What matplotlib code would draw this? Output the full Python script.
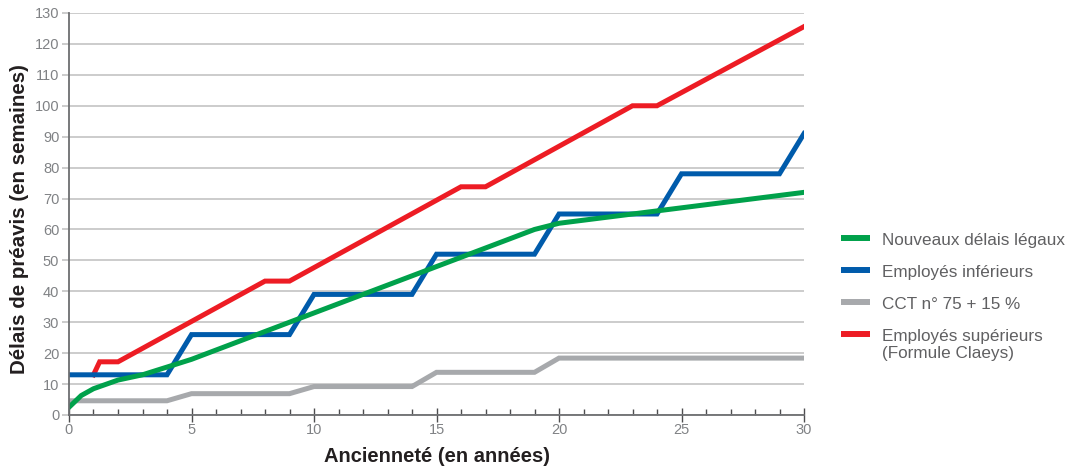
import matplotlib.pyplot as plt
from matplotlib.lines import Line2D
from matplotlib.ticker import MultipleLocator

# Nouveaux délais légaux (weeks)
green_x = [0, 0.5, 1, 2, 3, 4, 5, 6, 7, 8, 9, 10, 11, 12, 13, 14, 15, 16, 17, 18, 19,
           20, 21, 22, 23, 24, 25, 26, 27, 28, 29, 30]
green_y = [2.5, 6.3, 8.5, 11.3, 13, 15.5, 18, 21, 24, 27, 30, 33, 36, 39, 42, 45, 48, 51, 54, 57, 60,
           62, 63, 64, 65, 66, 67, 68, 69, 70, 71, 72]

# Employés inférieurs
blue_x = [0, 4, 5, 9, 10, 14, 15, 19, 20, 24, 25, 29, 30]
blue_y = [13, 13, 26, 26, 39, 39, 52, 52, 65, 65, 78, 78, 91]

# CCT n° 75 + 15 %
gray_x = [0, 4, 5, 9, 10, 14, 15, 19, 20, 30]
gray_y = [4.6, 4.6, 6.9, 6.9, 9.2, 9.2, 13.8, 13.8, 18.4, 18.4]

# Employés supérieurs (Formule Claeys)
red_x = [1, 1.25, 2, 8, 9, 16, 17, 23, 24, 30]
red_y = [13, 17.2, 17.2, 43.3, 43.3, 73.8, 73.8, 100, 100, 125.6]

labels = ["Nouveaux délais légaux", "Employés inférieurs", "CCT n° 75 + 15 %",
          "Employés supérieurs\n(Formule Claeys)"]
colors = ["#00a14b", "#005bab", "#a7a9ac", "#ed1c24"]

plt.rcParams["font.family"] = ["Liberation Sans", "DejaVu Sans"]

W, H = 1071, 470
fig = plt.figure(figsize=(W / 100, H / 100), dpi=100)
ax = fig.add_axes([69 / W, 55 / H, 735 / W, 402 / H])

lw = 3.6
ax.plot(gray_x, gray_y, color=colors[2], lw=lw, solid_joinstyle="miter", zorder=3)
ax.plot(red_x, red_y, color=colors[3], lw=lw, solid_joinstyle="miter", zorder=3)
ax.plot(blue_x, blue_y, color=colors[1], lw=lw, solid_joinstyle="miter", zorder=4)
ax.plot(green_x, green_y, color=colors[0], lw=lw, solid_joinstyle="miter", zorder=5)

ax.set_xlim(0, 30)
ax.set_ylim(0, 130)
ax.yaxis.set_major_locator(MultipleLocator(10))
ax.xaxis.set_major_locator(MultipleLocator(5))
ax.xaxis.set_minor_locator(MultipleLocator(1))
ax.grid(axis="y", color="#c8c8c8", lw=1.3, zorder=0)
ax.set_axisbelow(True)

for s in ["top", "right"]:
    ax.spines[s].set_visible(False)
for s in ["left", "bottom"]:
    ax.spines[s].set_color("#6d6e71")
    ax.spines[s].set_linewidth(1.3)
    ax.spines[s].set_zorder(6)

ax.tick_params(axis="y", direction="out", length=5, width=1.3, color="#c8c8c8",
               labelsize=10.5, labelcolor="#808285", pad=2)
ax.tick_params(axis="x", which="major", direction="inout", length=10, width=1, color="#4d4d4f",
               labelsize=10.5, labelcolor="#808285", pad=1)
ax.tick_params(axis="x", which="minor", direction="in", length=4, width=1, color="#4d4d4f")

ax.set_xlabel("Ancienneté (en années)", fontsize=14.5, fontweight="bold", color="#231f20")
ax.set_ylabel("Délais de préavis (en semaines)", fontsize=14.8, fontweight="bold", color="#231f20")
ax.xaxis.set_label_coords(0.5, -0.079)
ax.yaxis.set_label_coords(-0.0551, 0.4876)

# legend drawn by hand: handle aligned with the first line of each label
for i, (lab, c) in enumerate(zip(labels, colors)):
    yc = 238.3 + 32 * i
    fig.add_artist(Line2D([841 / W, 870 / W], [1 - yc / H, 1 - yc / H], color=c, lw=4.3,
                          solid_capstyle="butt", transform=fig.transFigure))
    for k, line in enumerate(lab.split("\n")):
        yb = yc + 6.7 + 16.7 * k
        fig.text(882 / W, 1 - yb / H, line, fontsize=12.3, color="#606062",
                 ha="left", va="baseline")

fig.savefig("out.png", dpi=100)
